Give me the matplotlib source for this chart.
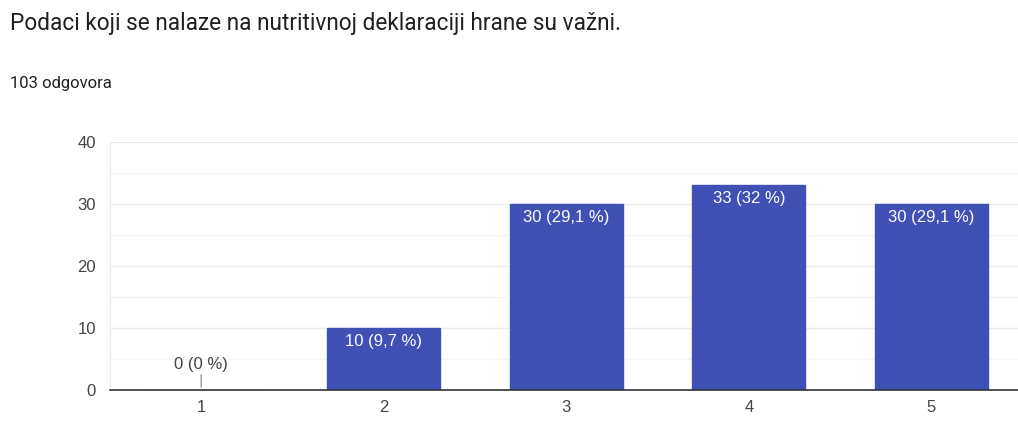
import matplotlib.pyplot as plt
from matplotlib.ticker import MultipleLocator

plt.rcParams['font.family'] = ['Roboto', 'DejaVu Sans']

categories = ['1', '2', '3', '4', '5']
counts = [0, 10, 30, 33, 30]
labels = ['0 (0 %)', '10 (9,7 %)', '30 (29,1 %)', '33 (32 %)', '30 (29,1 %)']

title = 'Podaci koji se nalaze na nutritivnoj deklaraciji hrane su važni.'
subtitle = '103 odgovora'

bar_color = '#3f51b5'
chart_font = ['Liberation Sans', 'DejaVu Sans']

fig = plt.figure(figsize=(10.18, 4.28), dpi=100)
ax = fig.add_axes([0.108, 0.0888, 0.8965, 0.5795])

x = range(len(categories))
ax.bar(x, counts, width=0.62, color=bar_color, edgecolor=bar_color, linewidth=1, zorder=3)

ax.set_xlim(-0.5, 4.5)
ax.set_ylim(0, 40)
ax.set_xticks(list(x))
ax.set_xticklabels(categories, family=chart_font)
ax.yaxis.set_major_locator(MultipleLocator(10))
ax.yaxis.set_minor_locator(MultipleLocator(5))
for t in ax.get_yticklabels():
    t.set_family(chart_font)
ax.grid(axis='y', which='major', color='#ebebeb', linewidth=1, zorder=0)
ax.grid(axis='y', which='minor', color='#f4f4f4', linewidth=1, zorder=0)
ax.tick_params(axis='both', which='both', length=0, labelsize=12, labelcolor='#444444')
ax.tick_params(axis='x', pad=7)
ax.tick_params(axis='y', pad=10)

for s in ['top', 'right']:
    ax.spines[s].set_visible(False)
ax.spines['left'].set_color('#ebebeb')
ax.spines['bottom'].set_color('#333333')
ax.spines['bottom'].set_linewidth(1.2)
ax.spines['bottom'].set_zorder(4)

for i, (c, lab) in enumerate(zip(counts, labels)):
    if c == 0:
        ax.annotate(lab, (i, c), xytext=(0, 13), textcoords='offset points',
                    ha='center', va='bottom', fontsize=12, color='#444444', family=chart_font)
        ax.annotate('', (i, c), xytext=(0, 13), textcoords='offset points',
                    arrowprops=dict(arrowstyle='-', color='#999999', lw=1))
    else:
        ax.annotate(lab, (i, c), xytext=(0, -4), textcoords='offset points',
                    ha='center', va='top', fontsize=12, color='white', zorder=5,
                    family=chart_font)

fig.text(0.0098, 0.945, title, fontsize=16.3, color='#202124', va='center')
fig.text(0.0098, 0.806, subtitle, fontsize=12, color='#202124', va='center')

fig.savefig('out.png', dpi=100)
